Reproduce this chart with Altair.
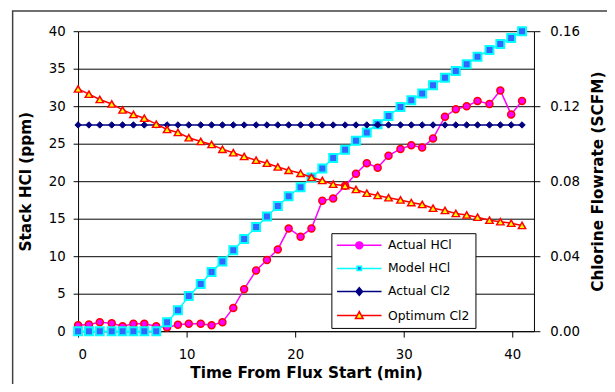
import altair as alt
import pandas as pd

# ---- data ----
time_min = [0, 1.0, 2.0, 3.1, 4.1, 5.1, 6.1, 7.2, 8.2, 9.2, 10.2, 11.3, 12.3, 13.3,
            14.3, 15.3, 16.4, 17.4, 18.4, 19.4, 20.5, 21.5, 22.5, 23.5, 24.6, 25.6,
            26.6, 27.6, 28.6, 29.7, 30.7, 31.7, 32.7, 33.8, 34.8, 35.8, 36.8, 37.9,
            38.9, 39.9, 40.9]

actual_hcl = [0.8, 0.9, 1.2, 1.05, 0.65, 1.0, 1.0, 0.65, 0.5, 0.87, 1.0, 1.0, 0.8, 1.2,
              3.1, 5.6, 8.1, 9.5, 10.9, 13.7, 12.6, 13.7, 17.4, 17.7, 19.4, 21.0, 22.4,
              21.8, 23.4, 24.3, 24.8, 24.5, 25.7, 28.6, 29.6, 30.0, 30.7, 30.3, 32.1,
              28.9, 30.7]

model_hcl = [0, 0, 0, 0, 0, 0, 0, 0, 1.2, 2.8, 4.7, 6.3, 7.9, 9.3, 10.8, 12.3, 13.9,
             15.3, 16.7, 18.0, 19.2, 20.5, 21.7, 23.1, 24.2, 25.4, 26.5, 27.6, 28.7,
             29.9, 30.8, 31.7, 32.8, 33.8, 34.7, 35.6, 36.6, 37.5, 38.3, 39.1, 40.0]

actual_cl2 = [0.11, 0.11, 0.11, 0.11, 0.11, 0.11, 0.11, 0.11, 0.11, 0.11, 0.11, 0.11,
              0.11, 0.11, 0.11, 0.11, 0.11, 0.11, 0.11, 0.11, 0.11, 0.11, 0.11, 0.11,
              0.11, 0.11, 0.11, 0.11, 0.11, 0.11, 0.11, 0.11, 0.11, 0.11, 0.11, 0.11,
              0.11, 0.11, 0.11, 0.11, 0.11]

optimum_cl2 = [0.1292, 0.1264, 0.1236, 0.1212, 0.1180, 0.1156, 0.1136, 0.1104, 0.1076,
               0.1060, 0.1032, 0.1012, 0.0996, 0.0970, 0.0952, 0.0932, 0.0912, 0.0896,
               0.0876, 0.0858, 0.0842, 0.0820, 0.0804, 0.0784, 0.0776, 0.0756, 0.0736,
               0.0724, 0.0712, 0.0700, 0.0686, 0.0676, 0.0656, 0.0644, 0.0628, 0.0620,
               0.0608, 0.0592, 0.0584, 0.0576, 0.0564]

series_names = ["Actual HCl", "Model HCl", "Actual Cl2", "Optimum Cl2"]
line_colors = ["#FF00FF", "#00FFFF", "#000080", "#FF0000"]
marker_fills = ["#FF00FF", "#3366FF", "#000080", "#FFFF00"]
marker_strokes = ["#FF0000", "#00FFFF", "#000080", "#FF0000"]
x_ticks = [0, 10, 20, 30, 40]
left_ticks = [0, 5, 10, 15, 20, 25, 30, 35, 40]
right_ticks = [0, 0.04, 0.08, 0.12, 0.16]

# legend symbols: line + marker drawn as one custom path
legend_paths = [
    "M-4.1,0H-0.64M0.64,0H4.1M-0.64,0A0.64,0.64,0,1,1,0.64,0A0.64,0.64,0,1,1,-0.64,0Z",
    "M-4.1,0H-0.4M0.4,0H4.1M-0.4,-0.4H0.4V0.4H-0.4Z",
    "M-4.1,0H-0.6M0.6,0H4.1M0,-0.7L0.6,0L0,0.7L-0.6,0Z",
    "M-4.1,0H-0.4M0.4,0H4.1M0,-0.75L0.7,0.55L-0.7,0.55Z",
]

df = pd.DataFrame({
    "t": time_min,
    "ahcl": actual_hcl,
    "mhcl": model_hcl,
    "acl2": actual_cl2,
    "ocl2": optimum_cl2,
})
legend_df = pd.DataFrame({"series": series_names})
frame_df = pd.DataFrame({"frame": [0]})

FONT = "DejaVu Sans"

x_enc = alt.X(
    "t:Q",
    scale=alt.Scale(domain=[0, 42], nice=False, zero=False),
    axis=alt.Axis(values=x_ticks, title="Time From Flux Start (min)", grid=False,
                  tickSize=6, labelPadding=11, titleX=231, titleY=42,
                  titleBaseline="middle", titleAlign="center"),
)

left_scale = alt.Scale(domain=[0, 40], nice=False, zero=True)
left_axis = alt.Axis(orient="left", values=left_ticks, grid=True, title="Stack HCl (ppm)",
                     tickSize=5, labelPadding=8, titleAngle=270, titleX=-53, titleY=152,
                     titleBaseline="middle", titleAlign="center")
right_scale = alt.Scale(domain=[0, 0.16], nice=False, zero=True)
right_axis = alt.Axis(orient="right", values=right_ticks, format=".2f", grid=False,
                      title="Chlorine Flowrate (SCFM)", tickSize=6, labelPadding=10,
                      titleAngle=270, titleX=64, titleY=152, titleBaseline="middle",
                      titleAlign="center")

base = alt.Chart(df)


def series_layers(field, idx, scale, axis, shape, size, sw, lw):
    y = alt.Y(f"{field}:Q", scale=scale, axis=axis)
    line = base.mark_line(color=line_colors[idx], strokeWidth=lw).encode(x=x_enc, y=y)
    pts = base.mark_point(shape=shape, size=size, filled=True, opacity=1,
                          fill=marker_fills[idx], stroke=marker_strokes[idx],
                          strokeWidth=sw).encode(x=x_enc, y=y)
    return [line, pts]


leg = alt.Legend(orient="none", legendX=256.7, legendY=204.7, title=None,
                 labelFont=FONT, labelFontSize=12.5, labelColor="#000000", labelLimit=0,
                 padding=5.8, rowPadding=9.4, symbolOffset=16, labelOffset=22.5,
                 symbolSize=121, symbolStrokeWidth=1.5, fillColor="#FFFFFF",
                 strokeColor="#000000")

legend_layer = alt.Chart(legend_df).transform_filter("false").mark_point(
    filled=True, size=121, strokeWidth=1.5, opacity=1
).encode(
    shape=alt.Shape("series:N", scale=alt.Scale(domain=series_names, range=legend_paths), legend=leg),
    fill=alt.Fill("series:N", scale=alt.Scale(domain=series_names, range=marker_fills), legend=leg),
    stroke=alt.Stroke("series:N", scale=alt.Scale(domain=series_names, range=line_colors), legend=leg),
)

left = alt.layer(
    *series_layers("ahcl", 0, left_scale, left_axis, "circle", 50, 1.5, 1.5),
    *series_layers("mhcl", 1, left_scale, left_axis, "square", 64, 2, 1.5),
    legend_layer,
)
right = alt.layer(
    *series_layers("acl2", 2, right_scale, right_axis, "diamond", 42, 1, 1.5),
    *series_layers("ocl2", 3, right_scale, right_axis, "triangle-up", 55, 1.5, 1.5),
)

frame = alt.Chart(frame_df).mark_rect(fillOpacity=0, stroke="#404040", strokeWidth=1.5).encode(
    x=alt.value(-66.3), x2=alt.value(700), y=alt.value(-20.5), y2=alt.value(600)
)

chart = alt.layer(frame, left, right).resolve_scale(y="independent").properties(
    width=462, height=304,
    autosize=alt.AutoSizeParams(type="none"),
    padding={"left": 71, "top": 21, "right": 74, "bottom": 51},
    background="#FFFFFF",
).configure_view(strokeWidth=0).configure_axis(
    domainColor="#000000", domainWidth=1, tickColor="#000000", tickWidth=1,
    labelColor="#000000", labelFont=FONT, labelFontSize=13.5,
    titleColor="#000000", titleFont=FONT, titleFontSize=15.5, titleFontWeight="bold",
    gridColor="#000000", gridWidth=1, gridOpacity=1,
)

chart.save("out.html", embed_options={"renderer": "svg", "actions": False})
